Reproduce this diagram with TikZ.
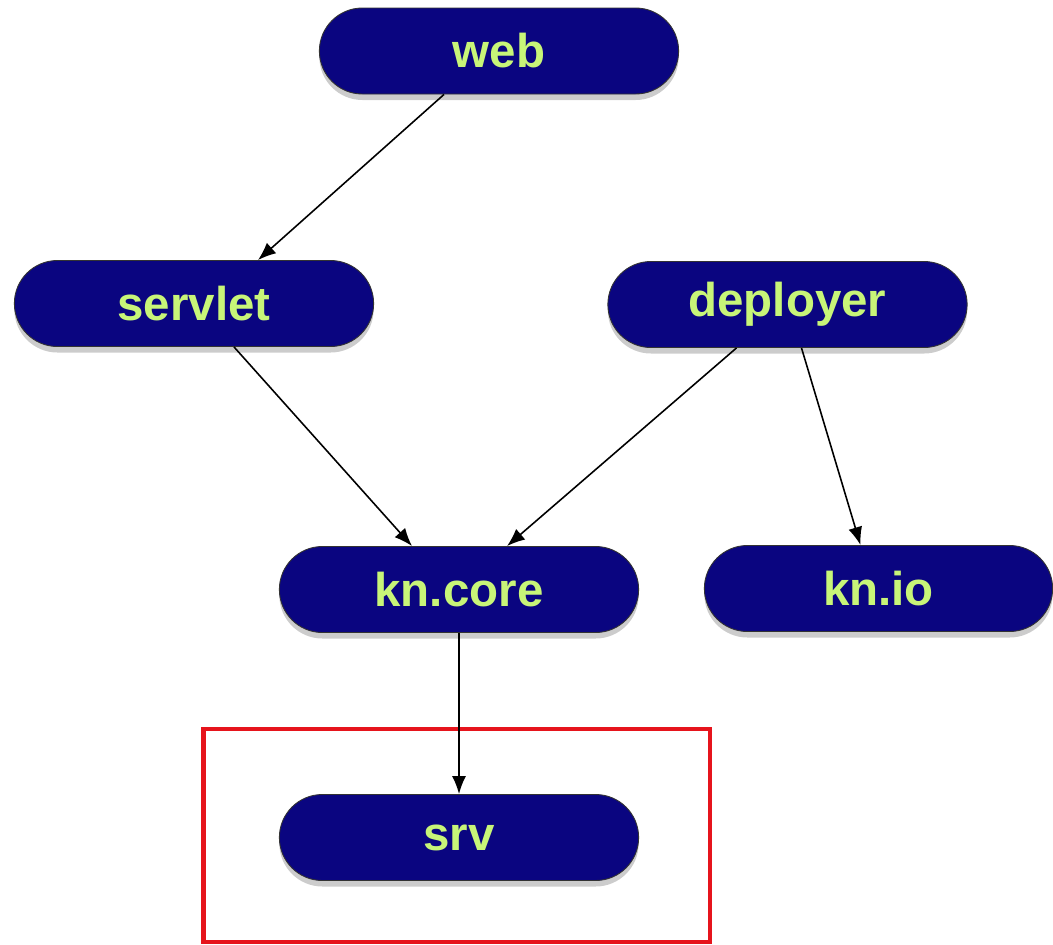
\documentclass[tikz,border=0pt]{standalone}
\usepackage{fontspec}
\setsansfont{Liberation Sans}
\usetikzlibrary{shapes.misc,shadows,arrows.meta}
\definecolor{pillblue}{RGB}{10,5,128}
\definecolor{pilltext}{RGB}{200,245,120}
\definecolor{boxred}{RGB}{230,20,28}
\tikzset{
	pill/.style={rounded rectangle,draw=black!80,line width=0.5pt,fill=pillblue,
	  text=pilltext,minimum width=7.42cm,minimum height=1.72cm,
	  font=\sffamily\bfseries\fontsize{27}{30}\selectfont,
	  drop shadow={opacity=0.4,shadow xshift=0pt,shadow yshift=-0.12cm}},
	dep/.style={-{Latex[length=0.36cm,width=0.28cm]},line width=0.9pt}
}
\begin{document}
\begin{tikzpicture}
	\useasboundingbox (0,0) rectangle (21.06,-18.9);

	%nodes
	\node[pill] (web) at (9.98,-1.02) {web};
	\node[pill] (servlet) at (3.88,-6.07) {servlet};
	\node[pill] (deployer) at (15.75,-6.09) {deployer};
	\node[pill] (kncore) at (9.18,-11.79) {kn.core};
	\node[pill,minimum width=7.2cm] (knio) at (17.57,-11.77) {kn.io};
	\node[pill] (srv) at (9.18,-16.75) {srv};

	%red box round srv
	\draw[boxred,line width=2.3pt] (4.07,-14.58) rectangle (14.2,-18.84);

	%dependencies
	\draw[dep] ([xshift=-1.1cm]web.south) -- ([xshift=1.28cm]servlet.north);
	\draw[dep] ([xshift=0.8cm]servlet.south) -- ([xshift=-0.94cm]kncore.north);
	\draw[dep] ([xshift=-1.02cm]deployer.south) -- ([xshift=0.96cm]kncore.north);
	\draw[dep] ([xshift=0.28cm]deployer.south) -- ([xshift=-0.36cm]knio.north);
	\draw[dep] (kncore.south) -- (srv.north);
\end{tikzpicture}
\end{document}
